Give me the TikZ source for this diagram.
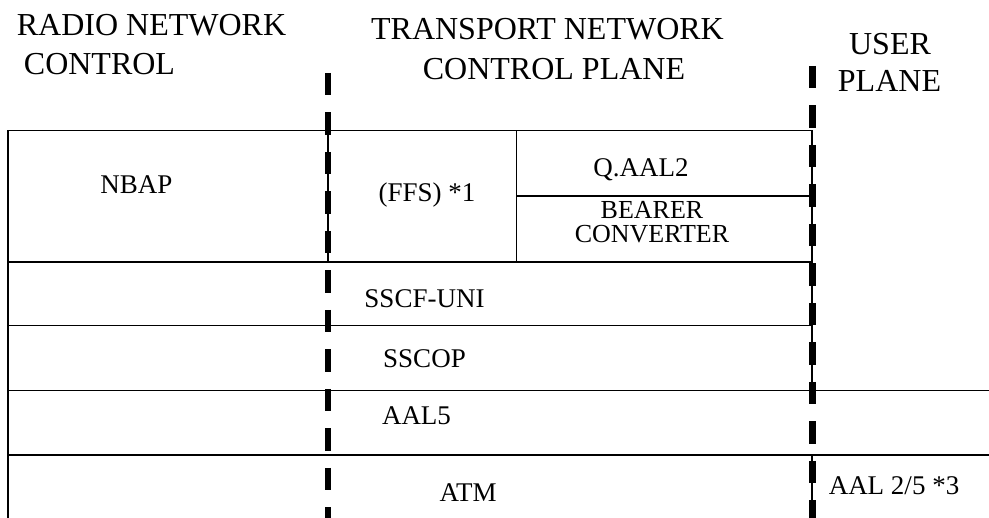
\documentclass[tikz,border=0pt]{standalone}
\usepackage{fontspec}
\setmainfont{Liberation Serif}
\begin{document}
\begin{tikzpicture}[x=1pt,y=-1pt,
  rule/.style={line width=1.4pt},
  planediv/.style={line width=6.5pt, dash pattern=on 22.5pt off 17pt},
  head/.style={anchor=base, inner sep=0pt, font=\fontsize{32}{38}\selectfont},
  layer/.style={anchor=base, inner sep=0pt, font=\fontsize{27}{32}\selectfont}]
\useasboundingbox (0,0) rectangle (989,518);

% thin rules
\draw[rule] (8,130.5) -- (812,130.5);
\draw[rule] (8,262) -- (812,262);
\draw[rule] (8,325.5) -- (812,325.5);
\draw[rule] (8,390.5) -- (989,390.5);
\draw[rule] (8,455) -- (989,455);
\draw[rule] (8,130.5) -- (8,518);
\draw[rule] (328,130.5) -- (328,262);
\draw[rule] (516.5,130.5) -- (516.5,262);
\draw[rule] (516.5,196) -- (812,196);
\draw[rule] (812,130.5) -- (812,390.5);
\draw[rule] (812,455) -- (812,518);

% plane dividers
\coordinate (d1top) at (328,73);
\coordinate (d1bot) at (328,518);
\coordinate (d2top) at (812.5,66);
\coordinate (d2bot) at (812.5,518);
\draw[planediv] (d1top) -- (d1bot);
\draw[planediv] (d2top) -- (d2bot);

% headings
\node[head] (rnc1) at (151.5,36) {RADIO NETWORK};
\node[head] (rnc2) at (99.5,75) {CONTROL};
\node[head] (tn1) at (547.5,40) {TRANSPORT NETWORK};
\node[head] (tn2) at (554,80) {CONTROL PLANE};
\node[head] (up1) at (890,55) {USER};
\node[head] (up2) at (889.5,92) {PLANE};

% layers
\node[layer] (nbap) at (136.5,194) {NBAP};
\node[layer] (ffs) at (427,202) {(FFS) *1};
\node[layer] (qaal2) at (641,177) {Q.AAL2};
\node[layer, anchor=north, align=center, font=\fontsize{26}{24}\selectfont] (bconv) at (652,201) {BEARER\\CONVERTER};
\node[layer] (sscf) at (424.5,308) {SSCF-UNI};
\node[layer] (sscop) at (424.5,368) {SSCOP};
\node[layer] (aal5) at (416.5,425) {AAL5};
\node[layer] (atm) at (468,502) {ATM};
\node[layer] (aal25) at (894,495) {AAL 2/5 *3};
\end{tikzpicture}
\end{document}
